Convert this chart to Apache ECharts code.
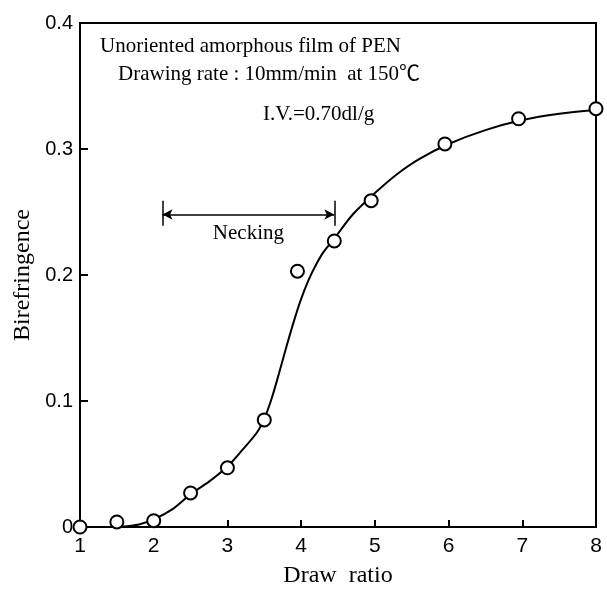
<!DOCTYPE html>
<html>
<head>
<meta charset="utf-8">
<script src="https://cdn.jsdelivr.net/npm/echarts@6/dist/echarts.min.js"></script>
<style>
  html, body { margin: 0; padding: 0; background: #fff; }
  #chart { width: 607px; height: 593px; }
</style>
</head>
<body>
<div id="chart"></div>
<script>
// measured points (draw ratio, birefringence)
var drawRatio = [1, 1.5, 2, 2.5, 3, 3.5, 3.95, 4.45, 4.95, 5.95, 6.95, 8];
var birefringence = [0, 0.004, 0.005, 0.027, 0.047, 0.085, 0.203, 0.227, 0.259, 0.304, 0.324, 0.332];

// the hand-drawn curve
var curveX = [1.55, 1.8, 2, 2.25, 2.5, 2.75, 3, 3.2, 3.4, 3.5, 3.6, 3.7, 3.8, 3.9, 4, 4.1, 4.2, 4.3, 4.45, 4.7, 5, 5.3, 5.6, 6, 6.5, 7, 7.5, 8];
var curveY = [0, 0.002, 0.006, 0.014, 0.026, 0.036, 0.048, 0.061, 0.075, 0.086, 0.102, 0.122, 0.143, 0.163, 0.181, 0.196, 0.208, 0.218, 0.229, 0.248, 0.265, 0.28, 0.292, 0.304, 0.315, 0.323, 0.328, 0.331];

// necking range annotation
var neckingRange = [2.12, 4.45];
var neckingLevel = 0.248;
var neckingBar = [0.239, 0.259];

var xTicks = [1, 2, 3, 4, 5, 6, 7, 8];
var yTicks = [0, 0.1, 0.2, 0.3, 0.4];

var serif = "'Liberation Serif', 'Times New Roman', 'Noto Sans CJK JP', serif";
var sans = "'Liberation Sans', Arial, sans-serif";

var points = drawRatio.map(function (x, i) { return [x, birefringence[i]]; });
var curve = curveX.map(function (x, i) { return [x, curveY[i]]; });

var chart = echarts.init(document.getElementById("chart"));
chart.setOption({
  animation: false,
  backgroundColor: "#fff",
  grid: {
    left: 80, right: 11, top: 23, bottom: 56,
    show: true, borderColor: "#000", borderWidth: 2
  },
  xAxis: {
    type: "value",
    min: xTicks[0], max: xTicks[xTicks.length - 1], interval: 1,
    name: "Draw  ratio",
    nameLocation: "middle",
    nameGap: 37,
    nameTextStyle: { fontFamily: serif, fontSize: 24, color: "#000" },
    axisLine: { lineStyle: { color: "#000", width: 2 } },
    axisTick: { inside: true, length: 7, lineStyle: { color: "#000", width: 2 } },
    axisLabel: { fontFamily: sans, fontSize: 21, color: "#000", margin: 9 },
    splitLine: { show: false }
  },
  yAxis: {
    type: "value",
    min: yTicks[0], max: yTicks[yTicks.length - 1], interval: 0.1,
    name: "Birefringence",
    nameLocation: "middle",
    nameGap: 44,
    nameTextStyle: { fontFamily: serif, fontSize: 24, color: "#000" },
    axisLine: { lineStyle: { color: "#000", width: 2 } },
    axisTick: { inside: true, length: 8, lineStyle: { color: "#000", width: 2 } },
    axisLabel: { fontFamily: sans, fontSize: 20, color: "#000", margin: 7 },
    splitLine: { show: false }
  },
  graphic: [
    { type: "text", left: 100, top: 36,
      style: { text: "Unoriented amorphous film of PEN", font: "21px " + serif, fill: "#000" } },
    { type: "text", left: 118, top: 64,
      style: { text: "Drawing rate : 10mm/min  at 150\u2103", font: "21px " + serif, fill: "#000" } },
    { type: "text", left: 263, top: 104,
      style: { text: "I.V.=0.70dl/g", font: "21px " + serif, fill: "#000" } }
  ],
  series: [
    {
      type: "line",
      data: curve,
      smooth: 0.3,
      symbol: "none",
      lineStyle: { color: "#000", width: 2 },
      z: 2,
      markLine: {
        silent: true,
        symbol: ["arrow", "arrow"],
        symbolSize: [8, 10],
        label: { show: false },
        lineStyle: { color: "#000", width: 1.5, type: "solid" },
        data: [
          [{ coord: [neckingRange[0], neckingLevel] }, { coord: [neckingRange[1], neckingLevel] }]
        ]
      }
    },
    {
      type: "line",
      data: [],
      markLine: {
        silent: true,
        symbol: ["none", "none"],
        label: { show: false },
        lineStyle: { color: "#000", width: 1.5, type: "solid" },
        data: [
          [{ coord: [neckingRange[0], neckingBar[0]] }, { coord: [neckingRange[0], neckingBar[1]] }],
          [{ coord: [neckingRange[1], neckingBar[0]] }, { coord: [neckingRange[1], neckingBar[1]] }]
        ]
      },
      markPoint: {
        silent: true,
        symbol: "circle",
        symbolSize: 0,
        label: {
          show: true, position: "bottom", distance: 8,
          formatter: "Necking",
          fontFamily: serif, fontSize: 21, color: "#000"
        },
        data: [{ coord: [(neckingRange[0] + neckingRange[1]) / 2, neckingLevel] }]
      }
    },
    {
      type: "scatter",
      data: points,
      symbol: "circle",
      symbolSize: 13,
      itemStyle: { color: "#ffffff", opacity: 1, borderColor: "#000", borderWidth: 2 },
      z: 3
    }
  ]
});
</script>
</body>
</html>
